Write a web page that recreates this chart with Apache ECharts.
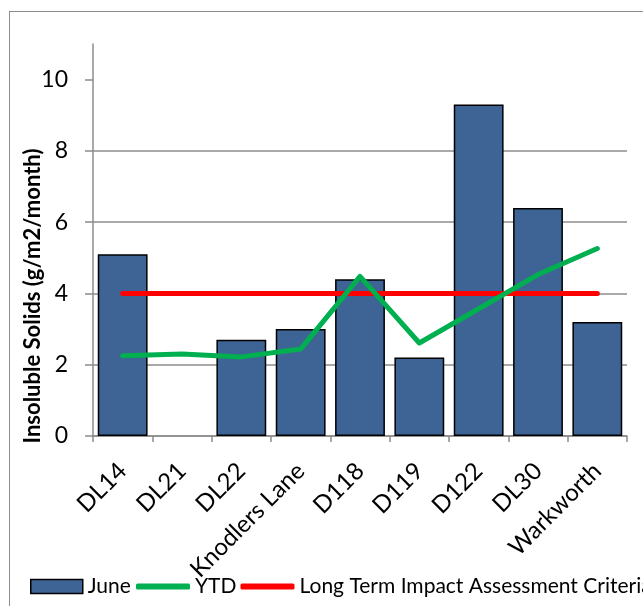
<!DOCTYPE html>
<html>
<head>
<meta charset="utf-8">
<script src="https://cdn.jsdelivr.net/npm/echarts@6/dist/echarts.min.js"></script>
<style>
  html, body { margin: 0; padding: 0; background: #fff; }
  #frame { position: absolute; left: 9px; top: 11px; width: 640px; height: 600px; border: 1.5px solid #8c8c8c; box-sizing: border-box; }
  #chart { position: absolute; left: 0; top: 0; width: 643px; height: 606px; }
</style>
</head>
<body>
<div id="frame"></div>
<div id="chart"></div>
<script>
// Monitoring sites
const categories = ['DL14', 'DL21', 'DL22', 'Knodlers Lane', 'D118', 'D119', 'D122', 'DL30', 'Warkworth'];
// Insoluble solids for June (g/m2/month); DL21 has no June result
const juneValues = [5.1, null, 2.7, 3.0, 4.4, 2.2, 9.3, 6.4, 3.2];
// Year-to-date average
const ytdValues = [2.25, 2.3, 2.22, 2.44, 4.48, 2.61, 3.57, 4.53, 5.26];
// Long term impact assessment criteria
const criteriaValues = [4, 4, 4, 4, 4, 4, 4, 4, 4];
// Labelled ticks on the value axis
const yTicks = [0, 2, 4, 6, 8, 10];
const yAxisTitle = 'Insoluble Solids (g/m2/month)';
const seriesNames = ['June', 'YTD', 'Long Term Impact Assessment Criteria'];

const FONT = 'Lato, "Liberation Sans", sans-serif';
const GREY = '#8c8c8c';
const BAR_BLUE = '#3d6494';
const GREEN = '#00b050';
const RED = '#ff0000';

const legendText = { fontFamily: FONT, fontSize: 21, color: '#000' };

const chart = echarts.init(document.getElementById('chart'), null, { renderer: 'canvas' });

chart.setOption({
  animation: false,
  backgroundColor: 'transparent',
  grid: { left: 93, right: 16, top: 44, bottom: 170, containLabel: false },
  graphic: [{
    type: 'text',
    x: 33,
    y: 296,
    rotation: Math.PI / 2,
    style: {
      text: yAxisTitle,
      fontFamily: FONT,
      fontSize: 22,
      fontWeight: 'bold',
      fill: '#000',
      align: 'center',
      verticalAlign: 'middle'
    }
  }],
  legend: [
    {
      // bar key
      left: 25,
      top: 571,
      width: 200,
      itemWidth: 52,
      itemHeight: 14,
      textStyle: legendText,
      data: [{ name: seriesNames[0], icon: 'rect', itemStyle: { color: BAR_BLUE, borderColor: '#000', borderWidth: 1.5 } }]
    },
    {
      // line keys
      left: 131,
      top: 571,
      width: 1200,
      itemGap: 4,
      itemWidth: 54,
      itemHeight: 6,
      textStyle: legendText,
      data: [
        { name: seriesNames[1], icon: 'roundRect', itemStyle: { color: GREEN } },
        { name: seriesNames[2], icon: 'roundRect', itemStyle: { color: RED } }
      ]
    }
  ],
  xAxis: {
    type: 'category',
    data: categories,
    axisLine: { lineStyle: { color: GREY, width: 1.5 } },
    axisTick: { show: true, interval: 0, length: 6, lineStyle: { color: GREY, width: 1.5 } },
    axisLabel: {
      interval: 0,
      rotate: 45,
      margin: 31,
      fontFamily: FONT,
      fontSize: 24,
      color: '#000'
    }
  },
  yAxis: {
    type: 'value',
    min: 0,
    max: 11,
    interval: 2,
    axisLine: { show: true, lineStyle: { color: GREY, width: 1.5 } },
    axisTick: { show: true, length: 8, customValues: yTicks, lineStyle: { color: GREY, width: 1.5 } },
    axisLabel: { customValues: yTicks, margin: 25, fontFamily: FONT, fontSize: 23, color: '#000' },
    splitLine: { show: true, showMaxLine: false, lineStyle: { color: GREY, width: 1.5 } }
  },
  series: [
    {
      name: seriesNames[0],
      type: 'bar',
      data: juneValues,
      barCategoryGap: '16%',
      itemStyle: { color: BAR_BLUE, borderColor: '#000', borderWidth: 1.5 },
      z: 2
    },
    {
      name: seriesNames[2],
      type: 'line',
      data: criteriaValues,
      symbol: 'none',
      lineStyle: { color: RED, width: 5, cap: 'round' },
      itemStyle: { color: RED },
      z: 3
    },
    {
      name: seriesNames[1],
      type: 'line',
      data: ytdValues,
      symbol: 'none',
      lineStyle: { color: GREEN, width: 5, cap: 'round', join: 'round' },
      itemStyle: { color: GREEN },
      z: 4
    }
  ]
});
</script>
</body>
</html>
